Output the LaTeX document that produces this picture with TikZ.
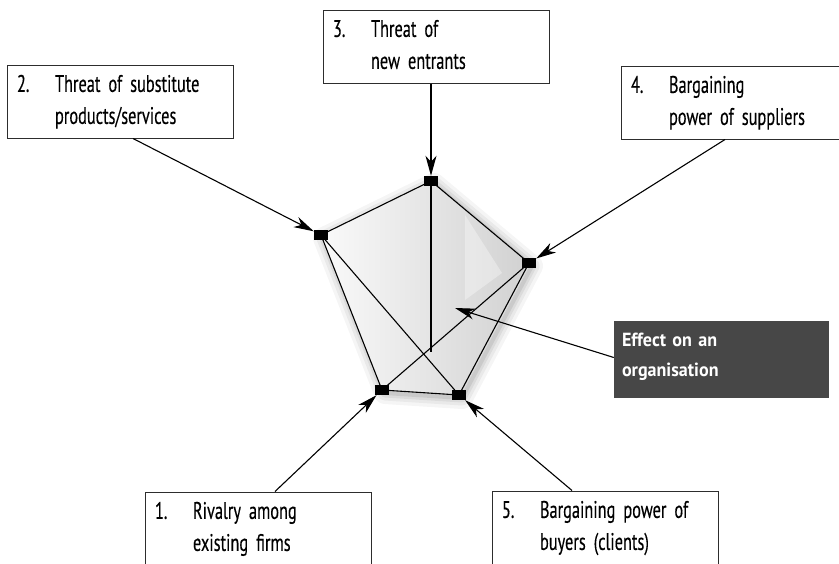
\documentclass[tikz,border=0pt]{standalone}
\usepackage{fontspec}
\setmainfont{PT Sans}[UprightFeatures={FakeStretch=0.68,FakeBold=0.3},
  BoldFeatures={FakeStretch=0.95},WordSpace=0.75]
\usetikzlibrary{arrows.meta,backgrounds}

\definecolor{forcedark}{RGB}{71,71,71}
\definecolor{forceline}{RGB}{45,45,45}

\newcommand{\forcetext}[3]{\begin{tabular}{@{}p{38pt}@{}l@{}}#1&#2\\&#3\end{tabular}}

\tikzset{
  forcebox/.style={draw=forceline,line width=1pt,minimum width=226pt,
    minimum height=73pt,text width=206pt,inner xsep=10pt,inner ysep=0pt,
    align=left,font=\fontsize{24}{32}\selectfont},
  effectbox/.style={fill=forcedark,text=white,minimum width=215pt,
    minimum height=77pt,text width=199pt,inner xsep=8pt,inner ysep=0pt,
    align=left,font=\bfseries\fontsize{19}{30}\selectfont},
  corner/.style={fill=black,minimum width=14pt,minimum height=10pt,inner sep=0pt},
  edge/.style={line width=1.1pt,line join=round},
  pull/.style={-{Stealth[length=20pt,width=11pt,inset=6pt]},line width=1.1pt},
}

\begin{document}
\begin{tikzpicture}[x=1pt,y=-1pt]
  \useasboundingbox (0,0) rectangle (839,563);
  \clip (0,0) rectangle (839,563);
  % the five forces
  \node[forcebox] (substitutes) at (120,101.5)
    {\forcetext{2.}{Threat of substitute}{products/services}};
  \node[forcebox] (entrants) at (436,46.5)
    {\forcetext{3.}{Threat of}{new entrants}};
  \node[forcebox] (suppliers) at (734,102.5)
    {\forcetext{4.}{Bargaining}{power of suppliers}};
  \node[forcebox] (rivalry) at (258,528.5)
    {\forcetext{1.}{Rivalry among}{existing firms}};
  \node[forcebox] (buyers) at (605,527.5)
    {\forcetext{5.}{Bargaining power of}{buyers (clients)}};
  \node[effectbox] (effect) at (721.5,359.5)
    {\begin{tabular}{@{}l@{}}Effect on an\\organisation\rule[-18pt]{0pt}{18pt}\end{tabular}};
  % corners of the pentagon
  \node[corner] (k1) at (382,390) {};
  \node[corner] (k2) at (321,235) {};
  \node[corner] (k3) at (431,181) {};
  \node[corner] (k4) at (529,263) {};
  \node[corner] (k5) at (459,395) {};
  \coordinate (mid) at (431,352);
  \coordinate (hit) at (455,308);
  % body of the pentagon
  \begin{pgfonlayer}{background}
    \begin{scope}[transform canvas={shift={(3pt,-3pt)}}]
      \foreach \w/\o in {22/.04,15/.05,9/.06,4/.08}
        \draw[black,opacity=\o,line width=\w pt,line join=round]
          (k3.center) -- (k4.center) -- (k5.center) -- (k1.center) -- (k2.center) -- cycle;
    \end{scope}
    \shade[left color=gray!4,right color=gray!36]
      (k3.center) -- (k4.center) -- (k5.center) -- (k1.center) -- (k2.center) -- cycle;
    \fill[white,opacity=.35] (465,215) -- (465,300) -- (502,273) -- cycle;
  \end{pgfonlayer}
  \draw[edge] (k3.center) -- (k4.center) -- (k5.center) -- (k1.center) -- (k2.center) -- cycle;
  \draw[edge] (k2.center) -- (k5.center);
  \draw[edge] (k4.center) -- (k1.center);
  \draw[edge] (k3.center) -- (mid);
  % forces acting on the corners
  \draw[pull] ([xshift=13pt]substitutes.south) -- (k2);
  \draw[pull] ([xshift=-5pt]entrants.south) -- (k3);
  \draw[pull] ([xshift=-9pt]suppliers.south) -- (k4);
  \draw[pull] ([xshift=17pt]rivalry.north) -- (k1);
  \draw[pull] ([xshift=-33pt]buyers.north) -- (k5);
  \draw[pull] ([yshift=2pt]effect.west) -- (hit);
\end{tikzpicture}
\end{document}
